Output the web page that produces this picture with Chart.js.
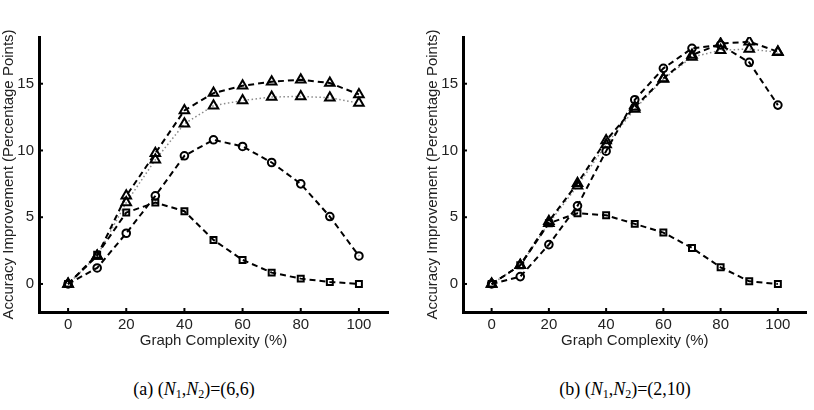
<!DOCTYPE html>
<html>
<head>
<meta charset="utf-8">
<script src="https://cdn.jsdelivr.net/npm/chart.js@4/dist/chart.umd.min.js"></script>
<style>
  body { margin: 0; background: #fff; width: 814px; height: 410px; overflow: hidden; position: relative; }
  canvas { position: absolute; top: 0; }
  #chartA { left: 0; }
  #chartB { left: 424px; }
  .caption { position: absolute; top: 379px; width: 240px; text-align: center;
             font-family: "Liberation Serif", "Times New Roman", serif; font-size: 18px; color: #000; }
  .caption sub { font-size: 12px; vertical-align: -3px; line-height: 0; }
</style>
</head>
<body>
<canvas id="chartA" width="400" height="352"></canvas>
<canvas id="chartB" width="390" height="352"></canvas>
<div class="caption" style="left:74px">(a) (<i>N</i><sub>1</sub>,<i>N</i><sub>2</sub>)=(6,6)</div>
<div class="caption" style="left:505px">(b) (<i>N</i><sub>1</sub>,<i>N</i><sub>2</sub>)=(2,10)</div>
<script>
// x positions shared by both panels
const complexity = [0, 10, 20, 30, 40, 50, 60, 70, 80, 90, 100];
const xTickValues = [0, 20, 40, 60, 80, 100];
const yTickValues = [0, 5, 10, 15];

// panel (a) (N1,N2)=(6,6)
const a_triDashed = [0, 2.1, 6.6, 9.8, 13.0, 14.3, 14.85, 15.15, 15.3, 15.05, 14.2];
const a_triDotted = [0, 2.1, 6.1, 9.3, 12.0, 13.35, 13.75, 14.0, 14.05, 13.95, 13.55];
const a_circle    = [0, 1.2, 3.8, 6.6, 9.6, 10.8, 10.3, 9.1, 7.5, 5.05, 2.1];
const a_square    = [0, 2.2, 5.35, 6.1, 5.45, 3.3, 1.8, 0.85, 0.4, 0.15, 0];

// panel (b) (N1,N2)=(2,10)
const b_triDashed = [0, 1.4, 4.7, 7.55, 10.75, 13.25, 15.4, 17.15, 18.0, 18.15, 17.4];
const b_triDotted = [0, 1.4, 4.55, 7.35, 10.45, 13.1, 15.35, 17.0, 17.5, 17.6, 17.35];
const b_circle    = [0, 0.55, 2.95, 5.85, 9.95, 13.8, 16.15, 17.65, 17.9, 16.6, 13.4];
const b_square    = [0, 1.4, 4.55, 5.3, 5.15, 4.5, 3.85, 2.7, 1.25, 0.2, 0];

const fontSans = '"Liberation Sans", Arial, sans-serif';

// small tick marks drawn inward from the axes
const innerTicks = {
  id: 'innerTicks',
  afterDraw(chart) {
    const { ctx, chartArea, scales } = chart;
    ctx.save();
    ctx.strokeStyle = '#000';
    ctx.lineWidth = 2;
    scales.x.ticks.forEach(t => {
      const px = scales.x.getPixelForValue(t.value);
      ctx.beginPath();
      ctx.moveTo(px, chartArea.bottom);
      ctx.lineTo(px, chartArea.bottom - 4);
      ctx.stroke();
    });
    scales.y.ticks.forEach(t => {
      const py = scales.y.getPixelForValue(t.value);
      ctx.beginPath();
      ctx.moveTo(chartArea.left, py);
      ctx.lineTo(chartArea.left + 4, py);
      ctx.stroke();
    });
    ctx.restore();
  }
};

function series(data, style, marker, radius) {
  const dotted = style === 'dotted';
  return {
    data: data,
    borderColor: dotted ? '#8a8a8a' : '#000',
    borderWidth: dotted ? 1.5 : 2,
    borderDash: dotted ? [1.5, 2.5] : [6, 4],
    pointStyle: marker,
    pointRadius: radius,
    pointBorderColor: '#000',
    pointBorderWidth: 2,
    pointBackgroundColor: 'rgba(0,0,0,0)',
    tension: 0,
    fill: false
  };
}

function makeChart(id, tD, tP, circ, sq, padRight) {
  const ctx = document.getElementById(id).getContext('2d');
  return new Chart(ctx, {
    type: 'line',
    data: {
      labels: complexity,
      datasets: [
        series(tD, 'dashed', 'triangle', 5.5),
        series(circ, 'dashed', 'circle', 3.8),
        series(sq, 'dashed', 'rect', 4.2),
        series(tP, 'dotted', 'triangle', 5.5)
      ]
    },
    options: {
      responsive: false,
      animation: false,
      layout: { padding: { top: 37, right: padRight, left: 0, bottom: 0 } },
      plugins: { legend: { display: false }, tooltip: { enabled: false } },
      scales: {
        x: {
          type: 'linear',
          min: -10,
          max: 110,
          afterBuildTicks: s => { s.ticks = xTickValues.map(v => ({ value: v })); },
          afterFit: s => { s.height = 40; },
          grid: { display: false, drawTicks: false },
          border: { display: true, color: '#000', width: 3 },
          ticks: { color: '#222', padding: 4, font: { family: fontSans, size: 15 } },
          title: { display: true, text: 'Graph Complexity (%)', color: '#222',
                   padding: { top: 0, bottom: 2 }, font: { family: fontSans, size: 15 } }
        },
        y: {
          min: -2.1,
          max: 18.5,
          afterBuildTicks: s => { s.ticks = yTickValues.map(v => ({ value: v })); },
          afterFit: s => { s.width = 39; },
          grid: { display: false, drawTicks: false },
          border: { display: true, color: '#000', width: 3 },
          ticks: { color: '#222', padding: 5, font: { family: fontSans, size: 15 } },
          title: { display: true, text: 'Accuracy Improvement (Percentage Points)', color: '#222',
                   padding: 0, font: { family: fontSans, size: 15 } }
        }
      }
    },
    plugins: [innerTicks]
  });
}

makeChart('chartA', a_triDashed, a_triDotted, a_circle, a_square, 12);
makeChart('chartB', b_triDashed, b_triDotted, b_circle, b_square, 3);
</script>
</body>
</html>
